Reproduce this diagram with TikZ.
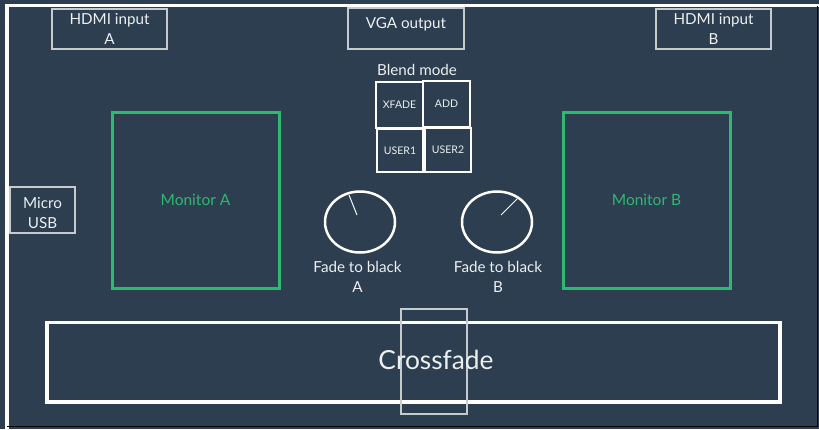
\documentclass[tikz,border=0pt]{standalone}
\usepackage{fontspec}
\setmainfont{Lato}
\definecolor{bg}{HTML}{2C3E50}
\definecolor{grn}{HTML}{2EB872}
\definecolor{lbl}{HTML}{ECF0F1}
\definecolor{thin}{HTML}{C5CBCF}
\tikzset{
  thinbox/.style={draw=thin, line width=1.2pt, inner sep=0pt, text=lbl, align=center, font=\fontsize{15.2}{20}\selectfont},
  modebox/.style={draw=white, line width=2pt, inner sep=0pt, text=lbl, font=\fontsize{10.5}{12}\selectfont},
  monitor/.style={draw=grn, line width=3pt, inner sep=0pt, text=grn, font=\fontsize{15.5}{18}\selectfont},
  lbltext/.style={text=lbl, inner sep=0pt, align=center, font=\fontsize{15.2}{20}\selectfont},
  knob/.style={draw=white, line width=2.5pt, ellipse, inner sep=0pt, minimum width=70pt, minimum height=61pt},
  needle/.style={draw=white, line width=1pt}
}
\usetikzlibrary{shapes.geometric}
\begin{document}
\begin{tikzpicture}[x=1pt,y=-1pt]
\fill[bg] (0,0) rectangle (819,429);
\useasboundingbox (0,0) rectangle (819,429);
% outer frame
\draw[white, line width=3.5pt] (7,440) -- (7,5.5) -- (830,5.5);
\draw[thin, line width=1pt] (817.5,5.5) -- (817.5,426.5) -- (7,426.5);
% top connectors
\node[thinbox, minimum width=115pt, minimum height=40pt] (hdmia) at (109.5,29) {HDMI input\\A};
\node[thinbox, minimum width=116pt, minimum height=41pt] (vga) at (406,28.5) {};
\node[lbltext] (vgat) at (406,24) {VGA output};
\node[thinbox, minimum width=115pt, minimum height=40pt] (hdmib) at (713.5,29) {HDMI input\\B};
% micro usb
\node[thinbox, minimum width=65pt, minimum height=46pt] (usb) at (42.5,210) {};
\node[lbltext] (usbt) at (42.5,213) {Micro\\USB};
% blend mode
\node[lbltext] (blend) at (417,70) {Blend mode};
\node[modebox, minimum width=47pt, minimum height=46pt] (xfade) at (399.5,105) {XFADE};
\node[modebox, minimum width=47pt, minimum height=46pt] (add) at (446.5,104) {ADD};
\node[modebox, minimum width=46pt, minimum height=43pt] (user1) at (400,150.5) {USER1};
\node[modebox, minimum width=46pt, minimum height=44pt] (user2) at (448,150) {USER2};
% monitors
\node[monitor, minimum width=167pt, minimum height=176pt] (mona) at (195.5,200) {Monitor A};
\node[monitor, minimum width=167pt, minimum height=176pt] (monb) at (646.5,200) {Monitor B};
% knobs
\node[knob] (knoba) at (360,222) {};
\coordinate (na) at (349,195);
\draw[needle] (357,215) -- (na);
\node[lbltext] (fadea) at (357.5,277) {Fade to black\\A};
\node[knob] (knobb) at (497,222) {};
\coordinate (nb) at (517,199);
\draw[needle] (501,215) -- (nb);
\node[lbltext] (fadeb) at (498,277) {Fade to black\\B};
% crossfade
\node[draw=white, line width=3.5pt, minimum width=733pt, minimum height=79.5pt, inner sep=0pt] (xf) at (413.5,362.25) {};
\node[draw=thin, line width=1.2pt, minimum width=66pt, minimum height=105pt, inner sep=0pt] (slider) at (434,361.5) {};
\node[text=lbl, inner sep=0pt, font=\fontsize{26.3}{30}\selectfont] (xft) at (436,360) {Crossfade};
\end{tikzpicture}
\end{document}
